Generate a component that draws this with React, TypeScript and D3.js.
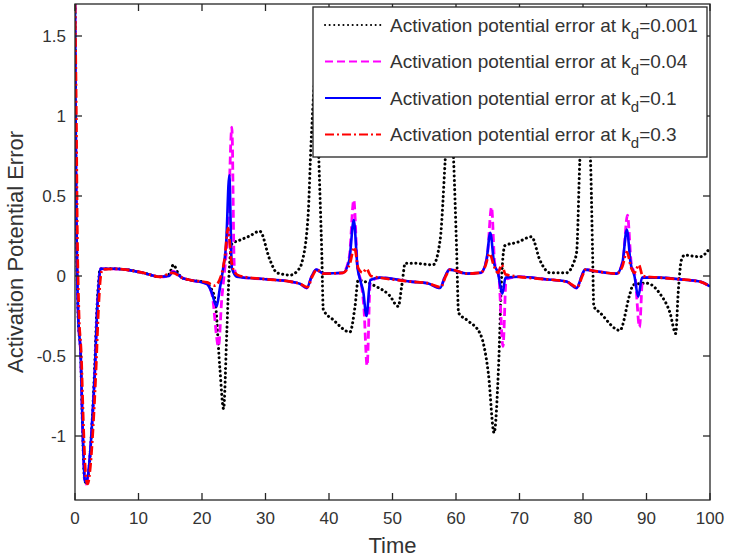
import React from 'react';
import * as d3 from 'd3';

const W = 729;
const H = 558;
const PLOT = { left: 75, right: 710, top: 4, bottom: 500 };

const xTicks = [0, 10, 20, 30, 40, 50, 60, 70, 80, 90, 100];
const yTicks = [-1, -0.5, 0, 0.5, 1, 1.5];
const yTickLabels = ['-1', '-0.5', '0', '0.5', '1', '1.5'];
const kdLabels = ['0.001', '0.04', '0.1', '0.3'];

type P = [number, number];

const kd0001: P[] = [
  [0, 1.7], [0.15, 0.7], [0.5, -0.25], [0.9, -0.5], [1.2, -0.97], [1.5, -1.27], [1.7, -1.29],
  [2.1, -1.24], [2.6, -0.98], [3.1, -0.57], [3.4, -0.25], [3.75, -0.02], [3.95, 0.045],
  [6, 0.045], [8, 0.04], [10.7, 0.02], [13.4, -0.005], [14.8, 0.01], [15.5, 0.07], [16.2, 0.02],
  [16.8, -0.01], [18.1, -0.025], [20.5, -0.04], [21.3, -0.07], [22.05, -0.15], [22.8, -0.57],
  [23.4, -0.83], [23.9, -0.36], [24.3, 0.04], [24.7, 0.2], [26, 0.225], [27.5, 0.25], [29.1, 0.28],
  [30.7, 0.1], [31.8, 0.02], [33.9, 0.006], [35.2, 0.04], [35.7, 0.08], [36.7, 0.37], [37.2, 0.85],
  [37.9, 1.25], [38.5, 0.6], [38.85, 0.16], [39.1, -0.21], [40.7, -0.275], [43.3, -0.35],
  [44.1, -0.19], [44.6, -0.025], [46, -0.04], [47.5, -0.067], [49.5, -0.12], [50.9, -0.19],
  [51.5, -0.05], [52, 0.08], [53.3, 0.08], [56.4, 0.07], [57.5, 0.225], [58.3, 0.725], [59, 1.25],
  [59.6, 0.75], [60.1, 0.16], [60.4, -0.23], [61.7, -0.275], [63.8, -0.36], [65.1, -0.61],
  [66, -0.98], [66.7, -0.57], [67.2, 0], [67.7, 0.19], [69.6, 0.21], [71.9, 0.245], [73.2, 0.1],
  [74.8, 0.02], [77.4, 0.02], [78.5, 0.08], [79.0, 0.15], [79.5, 0.72], [80.3, 1.25], [81.2, 0.7],
  [81.5, 0.16], [81.7, -0.19], [82.7, -0.23], [85.8, -0.34], [87.4, -0.11], [87.9, -0.055],
  [90, -0.045], [92.1, -0.11], [93.7, -0.23], [94.6, -0.36], [95.0, -0.1], [95.5, 0.1], [96, 0.13],
  [98.4, 0.12], [100, 0.175],
];

const kd004: P[] = [
  [0, 1.7], [0.15, 0.72], [0.5, -0.24], [0.9, -0.5], [1.2, -0.96], [1.55, -1.28], [1.75, -1.3],
  [2.1, -1.24], [2.6, -0.98], [3.15, -0.58], [3.45, -0.26], [3.8, -0.02], [4.0, 0.045], [6, 0.045],
  [8, 0.04], [10.7, 0.02], [13.4, -0.005], [14.8, 0.0], [15.4, 0.03], [16.2, 0.01], [16.8, -0.01],
  [18.1, -0.025], [20.8, -0.05], [21.6, -0.12], [22.6, -0.44], [23.1, -0.15], [23.6, 0.05],
  [24.1, 0.3], [24.7, 0.93], [25.1, 0.05], [25.6, -0.005], [30, -0.02], [33.9, -0.035],
  [35.5, -0.05], [36.5, -0.075], [37.3, 0.0], [38, 0.04], [39.1, 0.015], [42.2, 0.02],
  [43.2, 0.12], [43.9, 0.475], [44.5, 0.05], [45.0, -0.03], [45.5, -0.2], [46.0, -0.56],
  [46.5, -0.04], [48, -0.01], [52.8, -0.035], [55.5, -0.045], [57.5, -0.075], [58.3, 0.0],
  [59, 0.04], [61.7, 0.015], [63.9, 0.02], [64.9, 0.12], [65.6, 0.43], [66.1, 0.08], [66.7, 0.02],
  [67.4, -0.44], [67.9, -0.02], [70, -0.005], [74, -0.02], [77.4, -0.035], [79, -0.075],
  [79.8, 0.0], [80.3, 0.04], [82, 0.03], [85.3, 0.015], [86.3, 0.1], [87.0, 0.38], [87.6, 0.08],
  [88.2, 0.0], [88.9, -0.32], [89.4, -0.01], [92, -0.01], [95, -0.02], [98.4, -0.035], [100, -0.065],
];

const kd01: P[] = [
  [0, 1.7], [0.15, 0.7], [0.5, -0.25], [0.9, -0.5], [1.2, -0.95], [1.55, -1.28], [1.75, -1.29],
  [2.1, -1.23], [2.6, -0.98], [3.15, -0.57], [3.45, -0.25], [3.8, -0.02], [4.0, 0.045], [6, 0.045],
  [8, 0.04], [10.7, 0.02], [13.4, -0.005], [14.8, 0.0], [15.4, 0.025], [16.2, 0.01], [16.8, -0.01],
  [18.1, -0.025], [20.8, -0.05], [21.5, -0.1], [22.3, -0.19], [22.8, -0.08], [23.3, 0.04],
  [23.8, 0.2], [24.3, 0.63], [24.7, 0.05], [25.5, -0.005], [30, -0.02], [33.9, -0.035],
  [35.5, -0.05], [36.5, -0.075], [37.3, 0.0], [38, 0.04], [39.1, 0.015], [42.2, 0.02], [43.2, 0.1],
  [43.9, 0.35], [44.5, 0.05], [44.9, -0.025], [45.4, -0.1], [45.9, -0.25], [46.5, -0.025],
  [48, -0.01], [52.8, -0.035], [55.5, -0.045], [57.5, -0.075], [58.3, 0.0], [59, 0.04],
  [61.7, 0.015], [63.9, 0.02], [64.8, 0.1], [65.4, 0.27], [66, 0.08], [66.6, 0.02], [67.3, -0.11],
  [67.8, -0.01], [70, -0.005], [74, -0.02], [77.4, -0.035], [79, -0.075], [79.8, 0.0], [80.3, 0.04],
  [82, 0.03], [85.3, 0.015], [86.2, 0.08], [86.9, 0.29], [87.5, 0.08], [88.1, 0.0], [88.7, -0.13],
  [89.3, -0.01], [92, -0.01], [95, -0.02], [98.4, -0.035], [100, -0.065],
];

const kd03: P[] = [
  [0, 1.7], [0.2, 1.05], [0.35, 0.35], [0.6, -0.2], [1.0, -0.5], [1.35, -0.95], [1.75, -1.27],
  [2.0, -1.3], [2.35, -1.22], [2.85, -0.95], [3.35, -0.55], [3.65, -0.25], [4.0, -0.02],
  [4.3, 0.04], [6, 0.045], [8, 0.04], [10.7, 0.02], [13.4, -0.005], [15.4, 0.02], [16.8, -0.01],
  [18.1, -0.025], [20.8, -0.04], [22, -0.06], [23, 0.0], [23.6, 0.12], [24.1, 0.3], [24.6, 0.1],
  [25.2, 0.02], [26, 0.0], [30, -0.02], [33.9, -0.035], [35.5, -0.05], [36.6, -0.07], [37.4, 0.0],
  [38.1, 0.04], [39.1, 0.015], [42.2, 0.02], [43.3, 0.08], [44, 0.18], [44.6, 0.05], [45.3, 0.02],
  [45.9, 0.045], [46.6, 0.0], [48, -0.01], [52.8, -0.035], [55.5, -0.045], [57.6, -0.07],
  [58.4, 0.0], [59.1, 0.04], [61.7, 0.015], [63.9, 0.02], [64.6, 0.06], [65.3, 0.14], [66, 0.06],
  [66.6, 0.02], [67.2, 0.07], [67.8, 0.01], [70, -0.005], [74, -0.02], [77.4, -0.035],
  [79.1, -0.07], [79.9, 0.0], [80.4, 0.04], [82, 0.03], [85.3, 0.015], [86.2, 0.06], [86.9, 0.15],
  [87.6, 0.05], [88.1, 0.02], [88.8, 0.07], [89.4, 0.0], [92, -0.01], [95, -0.02], [98.4, -0.035],
  [100, -0.065],
];

const seriesData = [kd0001, kd004, kd01, kd03];
const seriesStyle = [
  { color: '#000000', dash: '0.1 4.5', cap: 'round', width: 3 },
  { color: '#ff00ff', dash: '8 4', cap: 'butt', width: 2.8 },
  { color: '#0000ff', dash: 'none', cap: 'butt', width: 2.6 },
  { color: '#ff0000', dash: '9 3 2 3', cap: 'butt', width: 2.7 },
];

const FONT = 'Arial, "Liberation Sans", Helvetica, sans-serif';

export default function App() {
  const x = d3.scaleLinear().domain([0, 100]).range([PLOT.left, PLOT.right]);
  const y = d3.scaleLinear().domain([-1.4, 1.7]).range([PLOT.bottom, PLOT.top]);
  const line = d3
    .line<P>()
    .x((d) => x(d[0]))
    .y((d) => y(d[1]))
    .curve(d3.curveMonotoneX);

  const tickLen = 7;
  const axisColor = '#262626';
  const textColor = '#333333';

  const legend = { x0: 313, x1: 707, y0: 7, y1: 157 };
  const rowMid = [25, 61.5, 98, 134.5];

  return (
    <svg
      width={W}
      height={H}
      style={{ position: 'absolute', left: 0, top: 0, background: '#fff' }}
      fontFamily={FONT}
    >
      <rect x={0} y={0} width={W} height={H} fill="#fff" />
      <defs>
        <clipPath id="plotclip">
          <rect x={PLOT.left} y={PLOT.top} width={PLOT.right - PLOT.left} height={PLOT.bottom - PLOT.top} />
        </clipPath>
      </defs>

      <g clipPath="url(#plotclip)">
        {seriesData.map((d, i) => (
          <path
            key={i}
            d={line(d) || ''}
            fill="none"
            stroke={seriesStyle[i].color}
            strokeWidth={seriesStyle[i].width}
            strokeDasharray={seriesStyle[i].dash}
            strokeLinecap={seriesStyle[i].cap as any}
            strokeLinejoin="round"
          />
        ))}
      </g>

      <rect
        x={PLOT.left}
        y={PLOT.top}
        width={PLOT.right - PLOT.left}
        height={PLOT.bottom - PLOT.top}
        fill="none"
        stroke={axisColor}
        strokeWidth={1.3}
      />

      {xTicks.map((t) => (
        <g key={'x' + t}>
          <line x1={x(t)} x2={x(t)} y1={PLOT.bottom} y2={PLOT.bottom - tickLen} stroke={axisColor} strokeWidth={1.3} />
          <line x1={x(t)} x2={x(t)} y1={PLOT.top} y2={PLOT.top + tickLen} stroke={axisColor} strokeWidth={1.3} />
          <text x={x(t)} y={524} fontSize={17} textAnchor="middle" fill={textColor}>
            {t}
          </text>
        </g>
      ))}

      {yTicks.map((t, i) => (
        <g key={'y' + t}>
          <line x1={PLOT.left} x2={PLOT.left + tickLen} y1={y(t)} y2={y(t)} stroke={axisColor} strokeWidth={1.3} />
          <line x1={PLOT.right} x2={PLOT.right - tickLen} y1={y(t)} y2={y(t)} stroke={axisColor} strokeWidth={1.3} />
          <text x={66} y={y(t) + 6} fontSize={17} textAnchor="end" fill={textColor}>
            {yTickLabels[i]}
          </text>
        </g>
      ))}

      <text x={(PLOT.left + PLOT.right) / 2} y={553} fontSize={22} textAnchor="middle" fill={textColor}>
        Time
      </text>
      <text
        transform={`translate(23, ${(PLOT.top + PLOT.bottom) / 2}) rotate(-90)`}
        fontSize={22}
        textAnchor="middle"
        fill={textColor}
      >
        Activation Potential Error
      </text>

      <rect
        x={legend.x0}
        y={legend.y0}
        width={legend.x1 - legend.x0}
        height={legend.y1 - legend.y0}
        fill="#fff"
        stroke={axisColor}
        strokeWidth={1.3}
      />
      {kdLabels.map((k, i) => (
        <g key={'l' + k}>
          <line
            x1={325}
            x2={381}
            y1={rowMid[i]}
            y2={rowMid[i]}
            stroke={seriesStyle[i].color}
            strokeWidth={2}
            strokeDasharray={seriesStyle[i].dash}
            strokeLinecap={seriesStyle[i].cap as any}
          />
          <text x={390} y={rowMid[i] + 6.5} fontSize={19} fill={textColor}>
            Activation potential error at k
            <tspan fontSize={15} dy={7}>d</tspan>
            <tspan dy={-7}>={k}</tspan>
          </text>
        </g>
      ))}
    </svg>
  );
}
